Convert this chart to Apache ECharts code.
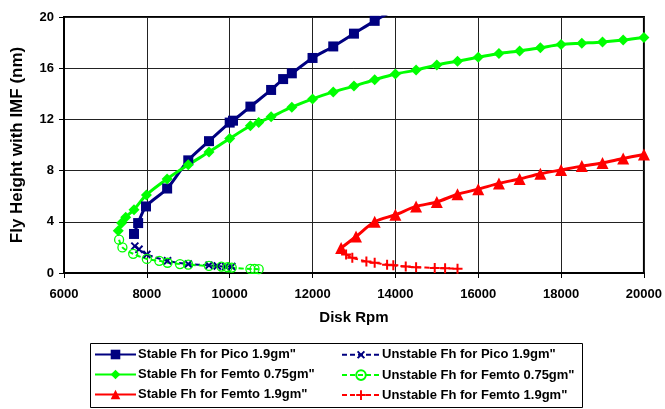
<!DOCTYPE html>
<html>
<head>
<meta charset="utf-8">
<title>Fly Height vs Disk Rpm</title>
<script src="https://cdn.jsdelivr.net/npm/echarts@6/dist/echarts.min.js"></script>
<style>
  html, body { margin: 0; padding: 0; background: #fff; }
  #chart { width: 665px; height: 409px; }
</style>
</head>
<body>
<div id="chart"></div>
<script>
// x ticks / y ticks
const xTicks = [6000, 8000, 10000, 12000, 14000, 16000, 18000, 20000]
const yTicks = [0, 4, 8, 12, 16, 20]

// [disk rpm, fly height nm]
const stablePico = [
  [7690, 3.05], [7790, 3.9], [7980, 5.2], [8490, 6.6], [9000, 8.8], [9500, 10.3],
  [10000, 11.75], [10080, 11.9], [10500, 13.0], [11000, 14.3], [11290, 15.15],
  [11500, 15.6], [12000, 16.8], [12500, 17.7], [13000, 18.7], [13500, 19.7], [14000, 20.6],
]
const unstablePico = [
  [7710, 2.1], [7810, 1.85], [8000, 1.45], [8500, 0.95], [9000, 0.7], [9500, 0.6],
  [9700, 0.55], [9900, 0.5], [10050, 0.5],
]
const stableFemto075 = [
  [7310, 3.3], [7390, 3.9], [7490, 4.35], [7690, 4.95], [7990, 6.1], [8490, 7.35],
  [9000, 8.45], [9500, 9.45], [10000, 10.5], [10500, 11.5], [10700, 11.75],
  [11000, 12.2], [11500, 12.95], [12000, 13.6], [12500, 14.15], [13000, 14.6],
  [13500, 15.1], [14000, 15.55], [14500, 15.85], [15000, 16.25], [15500, 16.55],
  [16000, 16.85], [16500, 17.15], [17000, 17.35], [17500, 17.6], [18000, 17.85],
  [18500, 17.95], [19000, 18.05], [19500, 18.2], [20000, 18.4],
]
const unstableFemto075 = [
  [7330, 2.6], [7410, 2.0], [7670, 1.5], [8000, 1.1], [8300, 0.95], [8500, 0.8],
  [8800, 0.7], [9000, 0.65], [9500, 0.55], [9800, 0.5], [9950, 0.45], [10050, 0.42],
  [10500, 0.32], [10600, 0.32], [10700, 0.3],
]
const stableFemto19 = [
  [12690, 1.95], [13050, 2.85], [13500, 4.0], [14000, 4.55], [14500, 5.2], [15000, 5.55],
  [15500, 6.15], [16000, 6.55], [16500, 7.0], [17000, 7.35], [17500, 7.75],
  [18000, 8.05], [18500, 8.35], [19000, 8.6], [19500, 8.95], [20000, 9.25],
]
const unstableFemto19 = [
  [12810, 1.45], [12960, 1.2], [13300, 0.9], [13500, 0.8], [13800, 0.65], [13950, 0.6],
  [14250, 0.5], [14500, 0.45], [14950, 0.4], [15200, 0.38], [15500, 0.33],
]

const NAVY = '#000080'
const GREEN = '#00ff00'
const RED = '#ff0000'
const PLUS = 'path://M4,0h2v4h4v2h-4v4h-2v-4h-4v-2h4z'
const FONT = '"Liberation Sans", Arial, sans-serif'

function stable(name, data, color, symbol, size) {
  return {
    name, type: 'line', data, smooth: 0.3, symbol, symbolSize: size,
    lineStyle: { color, width: 3 },
    itemStyle: { color },
    z: 3,
  }
}

function unstable(name, data, color, symbol, extra) {
  return Object.assign({
    name, type: 'line', data, smooth: 0.3, symbol, symbolSize: 9,
    lineStyle: { color, width: 2, type: [5, 3] },
    itemStyle: { color },
    z: 4,
  }, extra)
}

const legendText = { fontSize: 13, fontWeight: 'bold', color: '#000', fontFamily: FONT, padding: [0, 0, 0, -3] }

const chart = echarts.init(document.getElementById('chart'))

chart.setOption({
  animation: false,
  backgroundColor: '#fff',
  textStyle: { fontFamily: FONT },
  grid: {
    left: 64, right: 20, top: 17, bottom: 136,
    show: true, borderColor: '#000', borderWidth: 2, backgroundColor: 'transparent',
  },
  xAxis: {
    type: 'value', min: xTicks[0], max: xTicks[xTicks.length - 1], interval: 2000,
    name: 'Disk Rpm', nameLocation: 'middle', nameGap: 37,
    nameTextStyle: { fontSize: 15, fontWeight: 'bold', color: '#000', fontFamily: FONT },
    axisLine: { lineStyle: { color: '#000', width: 2 } },
    axisTick: { show: true, length: 5, lineStyle: { color: '#000', width: 1 } },
    axisLabel: {
      color: '#000', fontSize: 13, fontWeight: 'bold', margin: 15, fontFamily: FONT,
      formatter: (v) => String(v),
    },
    splitLine: { lineStyle: { color: '#222', width: 1 } },
  },
  yAxis: {
    type: 'value', min: yTicks[0], max: yTicks[yTicks.length - 1], interval: 4,
    name: 'Fly Height with IMF (nm)', nameLocation: 'middle', nameGap: 38,
    nameTextStyle: { fontSize: 17, fontWeight: 'bold', color: '#000', fontFamily: FONT },
    axisLine: { show: true, lineStyle: { color: '#000', width: 2 } },
    axisTick: { show: true, length: 5, lineStyle: { color: '#000', width: 1 } },
    axisLabel: { color: '#000', fontSize: 13, fontWeight: 'bold', margin: 10, fontFamily: FONT },
    splitLine: { lineStyle: { color: '#222', width: 1 } },
  },
  graphic: [{
    type: 'rect', left: 88, top: 341,
    shape: { width: 492, height: 64 },
    style: { fill: 'none', stroke: '#000', lineWidth: 1 },
    silent: true,
  }],
  legend: [
    {
      orient: 'vertical', left: 89, top: 343, itemGap: 7, itemWidth: 41, itemHeight: 12,
      textStyle: legendText,
      data: ['Stable Fh for Pico 1.9gm"', 'Stable Fh for Femto 0.75gm"', 'Stable Fh for Femto 1.9gm"'],
    },
    {
      orient: 'vertical', left: 336, top: 343, itemGap: 7, itemWidth: 38, itemHeight: 12,
      textStyle: legendText,
      data: ['Unstable Fh for Pico 1.9gm"', 'Unstable Fh for Femto 0.75gm"', 'Unstable Fh for Femto 1.9gm"'],
    },
  ],
  series: [
    stable('Stable Fh for Pico 1.9gm"', stablePico, NAVY, 'rect', 10),
    stable('Stable Fh for Femto 0.75gm"', stableFemto075, GREEN, 'diamond', 11),
    stable('Stable Fh for Femto 1.9gm"', stableFemto19, RED, 'triangle', 12),
    unstable('Unstable Fh for Pico 1.9gm"', unstablePico, NAVY, PLUS, { symbolRotate: 45, symbolSize: 10 }),
    unstable('Unstable Fh for Femto 0.75gm"', unstableFemto075, GREEN, 'circle', {
      itemStyle: { color: 'rgba(255,255,255,0)', borderColor: GREEN, borderWidth: 1.3 },
    }),
    unstable('Unstable Fh for Femto 1.9gm"', unstableFemto19, RED, PLUS, { symbolSize: 10 }),
  ],
})
</script>
</body>
</html>
